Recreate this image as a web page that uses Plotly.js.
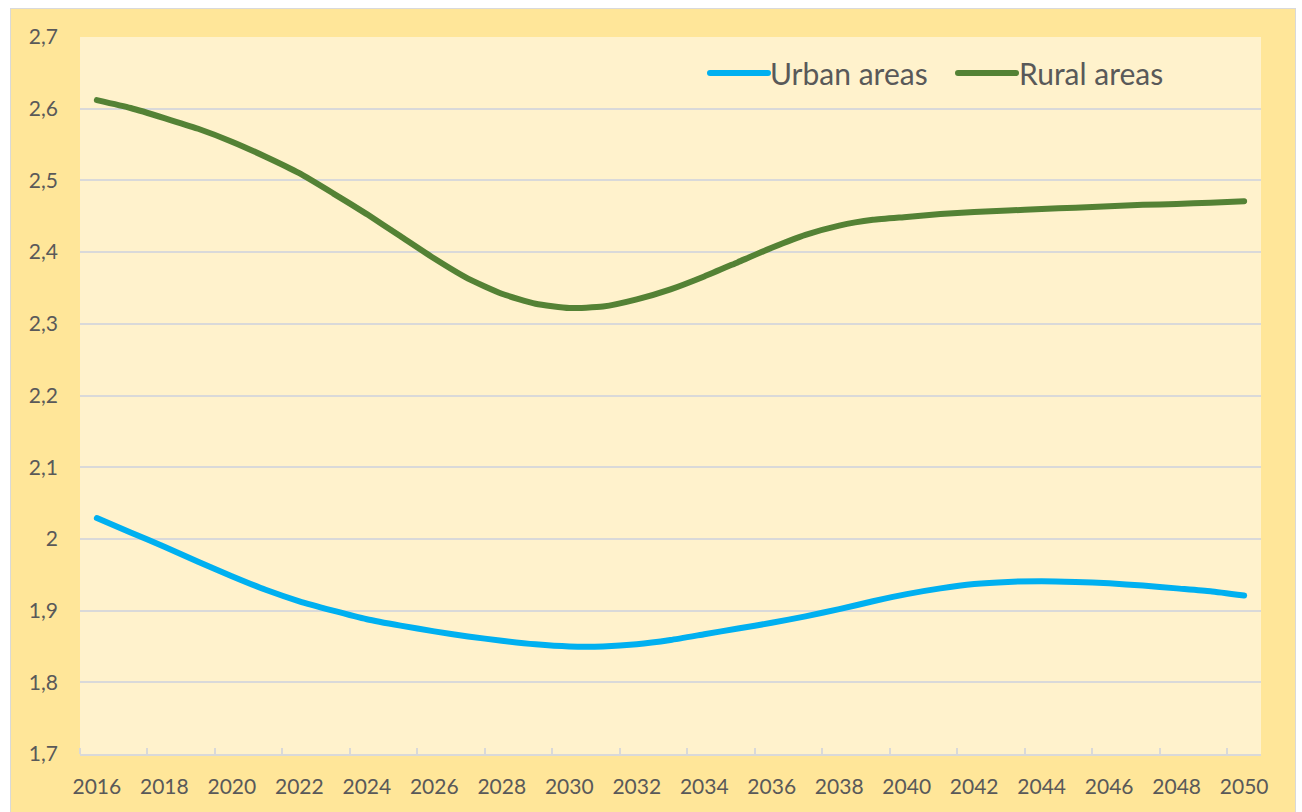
<!DOCTYPE html>
<html>
<head>
<meta charset="utf-8">
<script src="https://cdn.plot.ly/plotly-3.0.1.min.js"></script>
<style>
  html, body { margin: 0; padding: 0; background: #ffffff; overflow: hidden; }
  #chart { position: absolute; left: 10px; top: 8px; width: 1284px; height: 810px; border: 1px solid #D9D9D9; }
  #chart path.js-line { stroke-linecap: round; stroke-linejoin: round; }
  #chart .shapelayer path { stroke-linecap: round; }
</style>
</head>
<body>
<div id="chart"></div>
<script>
// ---- Data ----
const years = [2016,2017,2018,2019,2020,2021,2022,2023,2024,2025,2026,2027,2028,2029,2030,2031,2032,2033,2034,2035,2036,2037,2038,2039,2040,2041,2042,2043,2044,2045,2046,2047,2048,2049,2050];
const urbanAreas = [2.029,2.009,1.989,1.968,1.948,1.929,1.913,1.900,1.888,1.879,1.871,1.864,1.858,1.853,1.850,1.850,1.853,1.859,1.867,1.875,1.883,1.892,1.902,1.913,1.923,1.931,1.937,1.940,1.941,1.940,1.938,1.935,1.931,1.927,1.921];
const ruralAreas = [2.612,2.601,2.587,2.572,2.554,2.533,2.510,2.482,2.453,2.422,2.391,2.363,2.342,2.328,2.322,2.324,2.334,2.348,2.366,2.386,2.406,2.424,2.437,2.445,2.449,2.453,2.456,2.458,2.460,2.462,2.464,2.466,2.467,2.469,2.471];
const seriesNames = ["Urban areas", "Rural areas"];
const xTickYears = [2016,2018,2020,2022,2024,2026,2028,2030,2032,2034,2036,2038,2040,2042,2044,2046,2048,2050];
const yTickValues = [1.7,1.8,1.9,2.0,2.1,2.2,2.3,2.4,2.5,2.6,2.7];
const yTickLabels = ["1,7","1,8","1,9","2","2,1","2,2","2,3","2,4","2,5","2,6","2,7"];

const urbanColor = "#00B0F0";
const ruralColor = "#548235";
const textColor = "#595959";
const gridColor = "#D9D9D9";

const traces = [
  { x: years, y: urbanAreas, name: seriesNames[0], type: "scatter", mode: "lines",
    line: { color: urbanColor, width: 6, shape: "spline", smoothing: 0.5 }, hoverinfo: "x+y" },
  { x: years, y: ruralAreas, name: seriesNames[1], type: "scatter", mode: "lines",
    line: { color: ruralColor, width: 6, shape: "spline", smoothing: 0.5 }, hoverinfo: "x+y" }
];

// minor tick positions at category boundaries (every 2 years)
const boundaryTicks = xTickYears.map(v => v - 0.5);

// plot area in page pixels: x 80..1261, y 37..754
const px = v => (v - 80) / 1181;
const py = v => (754 - v) / 717;

const layout = {
  width: 1284, height: 810,
  margin: { l: 69, r: 34, t: 28, b: 65, pad: 0 },
  paper_bgcolor: "#FFE699",
  plot_bgcolor: "#FFF2CC",
  showlegend: false,
  font: { family: "Lato, 'Open Sans', sans-serif", color: textColor, size: 21 },
  xaxis: {
    range: [years[0] - 0.5, years[years.length - 1] + 0.5],
    tickmode: "array", tickvals: xTickYears, ticktext: xTickYears.map(String),
    ticks: "", showgrid: false, zeroline: false,
    showline: true, linecolor: gridColor, linewidth: 1.5,
    ticklabelstandoff: 13,
    tickfont: { size: 21, color: textColor },
    minor: { tickmode: "array", tickvals: boundaryTicks, ticks: "inside", ticklen: 6, tickwidth: 1.5, tickcolor: gridColor, showgrid: false },
    fixedrange: true
  },
  yaxis: {
    range: [1.7, 2.7],
    tickmode: "array", tickvals: yTickValues, ticktext: yTickLabels,
    ticks: "", showgrid: true, gridcolor: gridColor, gridwidth: 1.5,
    zeroline: false, showline: false,
    ticklabelstandoff: 21,
    tickfont: { size: 21, color: textColor },
    fixedrange: true
  },
  shapes: [
    { type: "line", xref: "paper", yref: "paper", x0: px(710), x1: px(768), y0: py(73), y1: py(73),
      line: { color: urbanColor, width: 6 } },
    { type: "line", xref: "paper", yref: "paper", x0: px(958), x1: px(1016), y0: py(73), y1: py(73),
      line: { color: ruralColor, width: 6 } }
  ],
  annotations: [
    { xref: "paper", yref: "paper", x: px(768), y: py(73), xanchor: "left", yanchor: "middle",
      text: seriesNames[0], showarrow: false, font: { size: 30, color: textColor } },
    { xref: "paper", yref: "paper", x: px(1017), y: py(73), xanchor: "left", yanchor: "middle",
      text: seriesNames[1], showarrow: false, font: { size: 30, color: textColor } }
  ]
};

Plotly.newPlot("chart", traces, layout, { displayModeBar: false, staticPlot: false });
</script>
</body>
</html>
